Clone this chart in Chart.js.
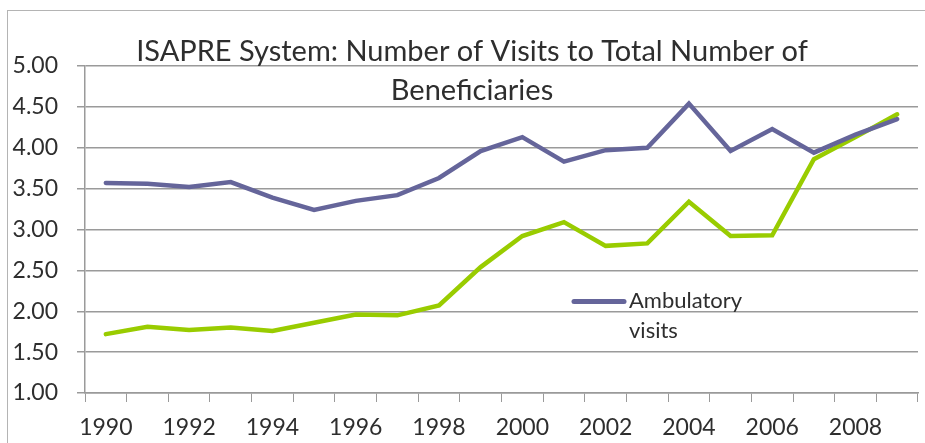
<!DOCTYPE html>
<html>
<head>
<meta charset="utf-8">
<script src="https://cdn.jsdelivr.net/npm/chart.js@4"></script>
<style>
    html, body { margin: 0; padding: 0; background: #fff; }
    #wrap { position: relative; width: 925px; height: 443px; overflow: hidden; }
    #frame { position: absolute; left: 7px; top: 10px; width: 940px; height: 460px;
             border-left: 1.5px solid #b4b4b4; border-top: 1.5px solid #b4b4b4; }
    canvas { position: absolute; left: 0; top: 0; }
</style>
</head>
<body>
<div id="wrap">
    <div id="frame"></div>
    <canvas id="chart" width="925" height="443"></canvas>
</div>
<script>
// Chart data
const years = ['1990', '1991', '1992', '1993', '1994', '1995', '1996', '1997', '1998', '1999',
               '2000', '2001', '2002', '2003', '2004', '2005', '2006', '2007', '2008', '2009'];
const ambulatoryVisits = [3.57, 3.56, 3.52, 3.58, 3.39, 3.24, 3.35, 3.42, 3.63, 3.96,
                          4.13, 3.83, 3.97, 4.00, 4.54, 3.96, 4.23, 3.94, 4.16, 4.35];
const secondSeries = [1.72, 1.81, 1.77, 1.80, 1.76, 1.86, 1.96, 1.95, 2.07, 2.54,
                      2.92, 3.09, 2.80, 2.83, 3.34, 2.92, 2.93, 3.86, 4.13, 4.41];
const titleLines = ['ISAPRE System: Number of Visits to Total Number of', 'Beneficiaries'];
const legendLines = ['Ambulatory', 'visits'];
const yMin = 1, yMax = 5, yStep = 0.5;

const textColor = '#2e2e2e';
const gridColor = '#9a9a9a';
const purple = '#65659a';
const green = '#99cc00';

// Title drawn over the top of the plot area, like the original
const titlePlugin = {
    id: 'overTitle',
    afterDraw(chart) {
        const ctx = chart.ctx;
        ctx.save();
        ctx.fillStyle = textColor;
        ctx.font = '29px Lato';
        ctx.textAlign = 'center';
        ctx.textBaseline = 'alphabetic';
        ctx.fillText(titleLines[0], 472, 61);
        ctx.fillText(titleLines[1], 472, 100);
        ctx.restore();
    }
};

// Legend inside the plot, only for the first series, wrapped on two lines
const legendPlugin = {
    id: 'innerLegend',
    afterDraw(chart) {
        const ctx = chart.ctx;
        const ds = chart.data.datasets[0];
        ctx.save();
        ctx.strokeStyle = ds.borderColor;
        ctx.lineWidth = 5;
        ctx.lineCap = 'round';
        ctx.beginPath();
        ctx.moveTo(574, 301.5);
        ctx.lineTo(624, 301.5);
        ctx.stroke();
        ctx.fillStyle = textColor;
        ctx.font = '22px Lato';
        ctx.textAlign = 'left';
        ctx.textBaseline = 'alphabetic';
        ctx.fillText(legendLines[0], 629, 308);
        ctx.fillText(legendLines[1], 629, 338);
        ctx.restore();
    }
};

const ctx = document.getElementById('chart').getContext('2d');
new Chart(ctx, {
    type: 'line',
    data: {
        labels: years,
        datasets: [{
            label: legendLines.join(' '),
            data: ambulatoryVisits,
            borderColor: purple,
            backgroundColor: purple,
            borderWidth: 4.5,
            pointRadius: 0,
            tension: 0,
            borderCapStyle: 'round',
            borderJoinStyle: 'miter'
        }, {
            label: '',
            data: secondSeries,
            borderColor: green,
            backgroundColor: green,
            borderWidth: 4.5,
            pointRadius: 0,
            tension: 0,
            borderCapStyle: 'round',
            borderJoinStyle: 'miter'
        }]
    },
    options: {
        responsive: false,
        devicePixelRatio: 1,
        animation: false,
        layout: {
            padding: { left: 0, top: 66, right: 7, bottom: 0 }
        },
        plugins: {
            legend: { display: false },
            title: { display: false },
            tooltip: { enabled: false }
        },
        scales: {
            x: {
                offset: true,
                grid: {
                    offset: true,
                    drawOnChartArea: false,
                    color: gridColor,
                    tickLength: 9
                },
                border: { color: gridColor, width: 1.5 },
                ticks: {
                    autoSkip: false,
                    maxRotation: 0,
                    color: textColor,
                    font: { family: 'Lato', size: 23 },
                    padding: 12,
                    callback: function (value, index) {
                        return index % 2 === 0 ? this.getLabelForValue(value) : '';
                    }
                },
                afterFit(axis) { axis.height = 50; }
            },
            y: {
                min: yMin,
                max: yMax,
                grid: {
                    color: gridColor,
                    lineWidth: 1.5,
                    tickLength: 8
                },
                border: { color: gridColor, width: 1.5 },
                ticks: {
                    stepSize: yStep,
                    color: textColor,
                    font: { family: 'Lato', size: 23 },
                    padding: 19,
                    callback: v => v.toFixed(2)
                },
                afterFit(axis) { axis.width = 85; }
            }
        }
    },
    plugins: [titlePlugin, legendPlugin]
});
</script>
</body>
</html>
